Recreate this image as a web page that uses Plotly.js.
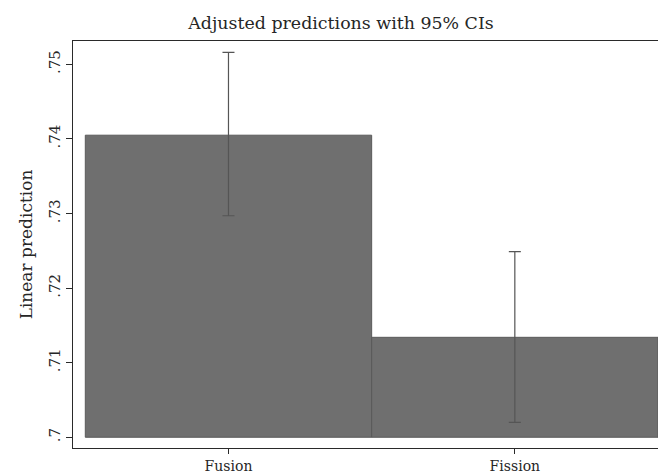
<!DOCTYPE html>
<html>
<head>
<meta charset="utf-8">
<script src="https://cdn.plot.ly/plotly-3.0.1.min.js"></script>
<style>html,body{margin:0;padding:0;background:#fff;}#chart{width:658px;height:474px;}</style>
</head>
<body>
<div id="chart"></div>
<script>
const categories = ["Fusion", "Fission"];
const predictions = [0.7405, 0.7134];
const ciLower = [0.7297, 0.7020];
const ciUpper = [0.7516, 0.7249];
const barBase = 0.7;
const yTickVals = [0.70, 0.71, 0.72, 0.73, 0.74, 0.75];
const yTickText = [".7", ".71", ".72", ".73", ".74", ".75"];

const FONT = "DejaVu Serif, Liberation Serif, serif";
const TXT = "#262626";

const trace = {
  type: "bar",
  x: categories,
  y: predictions.map(v => v - barBase),
  base: predictions.map(() => barBase),
  marker: { color: "#6f6f6f", line: { color: "#5a5a5a", width: 1 } },
  error_y: {
    type: "data",
    symmetric: false,
    array: predictions.map((v, i) => ciUpper[i] - v),
    arrayminus: predictions.map((v, i) => v - ciLower[i]),
    color: "#555555",
    thickness: 1.2,
    width: 6
  },
  hoverinfo: "skip"
};

const layout = {
  width: 658,
  height: 474,
  margin: { l: 73, r: 0, t: 41, b: 26 },
  paper_bgcolor: "#ffffff",
  plot_bgcolor: "#ffffff",
  font: { family: FONT, color: TXT, size: 14 },
  showlegend: false,
  bargap: 0,
  title: {
    text: "Adjusted predictions with 95% CIs",
    font: { family: FONT, size: 17.4, color: TXT },
    xref: "container", x: 341 / 658, xanchor: "center",
    yref: "container", y: 1 - 23 / 474, yanchor: "middle"
  },
  xaxis: {
    type: "category",
    range: [-0.543, 1.5],
    showgrid: false,
    zeroline: false,
    showline: true,
    mirror: true,
    linecolor: "#2a2a2a",
    linewidth: 1.3,
    ticks: "outside",
    ticklen: 5,
    tickwidth: 1,
    tickcolor: "#2a2a2a",
    tickfont: { family: FONT, size: 14, color: TXT }
  },
  yaxis: {
    range: [0.69856, 0.75313],
    tickvals: yTickVals,
    ticktext: yTickText,
    tickangle: -90,
    showgrid: false,
    zeroline: false,
    showline: true,
    linecolor: "#2a2a2a",
    linewidth: 1.3,
    ticks: "outside",
    ticklen: 6,
    tickwidth: 1,
    tickcolor: "#2a2a2a",
    tickfont: { family: FONT, size: 15, color: TXT },
    title: { text: "Linear prediction", font: { family: FONT, size: 17, color: TXT }, standoff: 8 }
  }
};

Plotly.newPlot("chart", [trace], layout, { displayModeBar: false, staticPlot: true });
</script>
</body>
</html>
